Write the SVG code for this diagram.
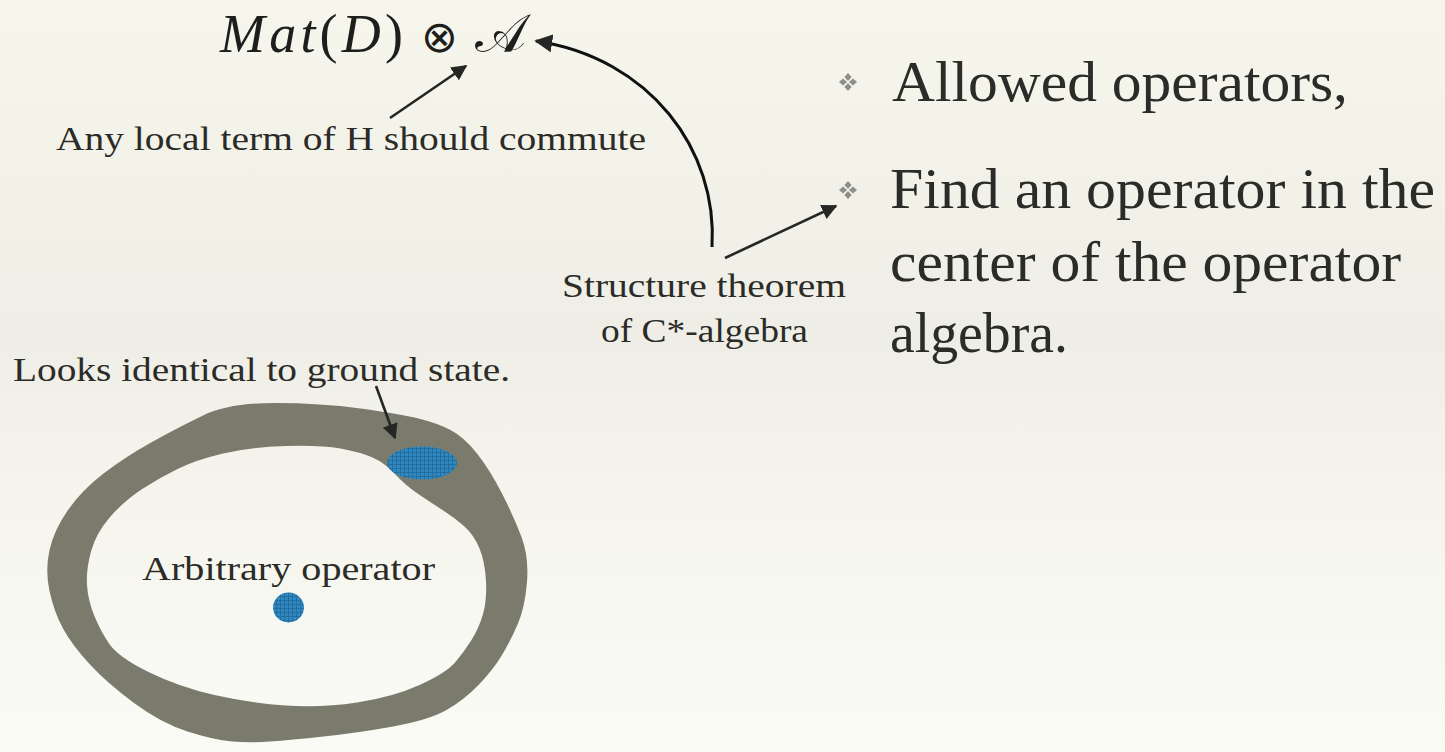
<svg xmlns="http://www.w3.org/2000/svg" width="1445" height="752" viewBox="0 0 1445 752">
<style>
.t{font-family:"Liberation Serif","DejaVu Serif",serif;fill:#2b2b27}
.lbl{font-size:33px}
.big{font-size:56px}
.math{font-family:"Liberation Serif","DejaVu Serif",serif;font-size:54px;fill:#1e1e1c}
.arr{fill:none;stroke:#262624;stroke-width:2.6}
.bul{fill:#8e8e8a}
.blue{fill:url(#grid)}
</style>
<defs>
<linearGradient id="bg" x1="0" y1="0" x2="0" y2="1">
<stop offset="0" stop-color="#f7f6ec"/>
<stop offset="0.45" stop-color="#efeee6"/>
<stop offset="0.72" stop-color="#f6f6ef"/>
<stop offset="1" stop-color="#fbfbf6"/>
</linearGradient>
<pattern id="grid" width="4" height="4" patternUnits="userSpaceOnUse">
<rect width="4" height="4" fill="#3088c2"/>
<path d="M0,0.5H4M0.5,0V4" stroke="#1f628f" stroke-width="1" opacity="0.7"/>
</pattern>
<marker id="ah" viewBox="0 0 10 10" refX="9" refY="5" markerWidth="6" markerHeight="6" markerUnits="strokeWidth" orient="auto">
<path d="M0,0L10,5L0,10Z" fill="#262624"/>
</marker>
<g id="diam">
<path d="M0,-9L3.6,-5L0,-1L-3.6,-5Z"/>
<path d="M0,1L3.6,5L0,9L-3.6,5Z"/>
<path d="M-9,0L-5,-3.6L-1,0L-5,3.6Z"/>
<path d="M1,0L5,-3.6L9,0L5,3.6Z"/>
</g>
</defs>
<rect width="1445" height="752" fill="url(#bg)"/>

<g id="ring">
<path fill="#7b7b6d" fill-rule="evenodd" d="M275,403 Q321,403 360.5,408.5 Q400,414 418.5,418.5 Q437,423 450.5,430 Q464,437 477,453.5 Q490,470 502,493.5 Q514,517 521.5,537 Q529,557 527,582 Q525,607 518,623.5 Q511,640 502,655 Q493,670 478.5,685 Q464,700 446.5,710 Q429,720 393,726.5 Q357,733 323.5,736.5 Q290,740 270,741.5 Q250,743 232,741.5 Q214,740 187.5,731.5 Q161,723 134,703 Q107,683 89.5,664 Q72,645 63,628.5 Q54,612 49.5,591 Q45,570 49.5,550 Q54,530 68,510 Q82,490 103.5,473.5 Q125,457 152,442 Q179,427 204,415 Q229,403 275,403 Z M285.5,446 Q321,445 340.5,448.5 Q360,452 372.5,457.5 Q385,463 395,474 Q405,485 417.5,493.5 Q430,502 442.5,510 Q455,518 464.5,526.5 Q474,535 479.5,548.5 Q485,562 486,581 Q487,600 483,614 Q479,628 471.5,640 Q464,652 455,662.5 Q446,673 419.5,685 Q393,697 357,702.5 Q321,708 285.5,705.5 Q250,703 214.5,695 Q179,687 148.5,672 Q118,657 109,643.5 Q100,630 94,615 Q88,600 87,585 Q86,570 91,551.5 Q96,533 110.5,516.5 Q125,500 143,488.5 Q161,477 178.5,468.5 Q196,460 223,453.5 Q250,447 285.5,446 Z"/>
</g>
<g id="ground-patch"><ellipse class="blue" cx="422" cy="463" rx="35" ry="16.5"/></g>
<g id="arbitrary-patch"><ellipse class="blue" cx="288.5" cy="607.5" rx="15.5" ry="15"/></g>

<g id="formula">
<text class="math" x="220" y="52" textLength="183" lengthAdjust="spacing"><tspan font-style="italic">Mat</tspan><tspan>(</tspan><tspan font-style="italic">D</tspan><tspan>)</tspan></text>
<text class="math" x="421" y="52" style="font-family:'DejaVu Sans',sans-serif;font-weight:200;font-size:44px">⊗</text>
<text class="math" x="475" y="52" style="font-family:'DejaVu Serif','DejaVu Sans',serif">𝒜</text>
</g>

<g id="label-local"><text class="t lbl" x="56" y="150" textLength="590" lengthAdjust="spacingAndGlyphs">Any local term of H should commute</text></g>
<g id="label-structure">
<text class="t lbl" x="562" y="297" textLength="284" lengthAdjust="spacingAndGlyphs">Structure theorem</text>
<text class="t lbl" x="601" y="342" textLength="207" lengthAdjust="spacingAndGlyphs">of C*-algebra</text>
</g>
<g id="label-looks"><text class="t lbl" x="13" y="381" textLength="497" lengthAdjust="spacingAndGlyphs">Looks identical to ground state.</text></g>
<g id="label-arbitrary"><text class="t lbl" x="142" y="580" textLength="293" lengthAdjust="spacingAndGlyphs">Arbitrary operator</text></g>

<g id="bullets">
<use href="#diam" class="bul" x="848" y="82"/>
<use href="#diam" class="bul" x="848" y="190"/>
<text class="t big" x="892" y="101" textLength="456" lengthAdjust="spacingAndGlyphs">Allowed operators,</text>
<text class="t big" x="890" y="208" textLength="545" lengthAdjust="spacingAndGlyphs">Find an operator in the</text>
<text class="t big" x="890" y="281" textLength="511" lengthAdjust="spacingAndGlyphs">center of the operator</text>
<text class="t big" x="890" y="352" textLength="178" lengthAdjust="spacingAndGlyphs">algebra.</text>
</g>

<g id="connectors">
<path class="arr" marker-end="url(#ah)" d="M390,118 L466,66"/>
<path class="arr" style="stroke:#111;stroke-width:3" marker-end="url(#ah)" d="M712,247 C718,150 650,58 536,41"/>
<path class="arr" marker-end="url(#ah)" d="M725,258 L836,206"/>
<path class="arr" marker-end="url(#ah)" d="M376,386 L395,438"/>
</g>
</svg>
